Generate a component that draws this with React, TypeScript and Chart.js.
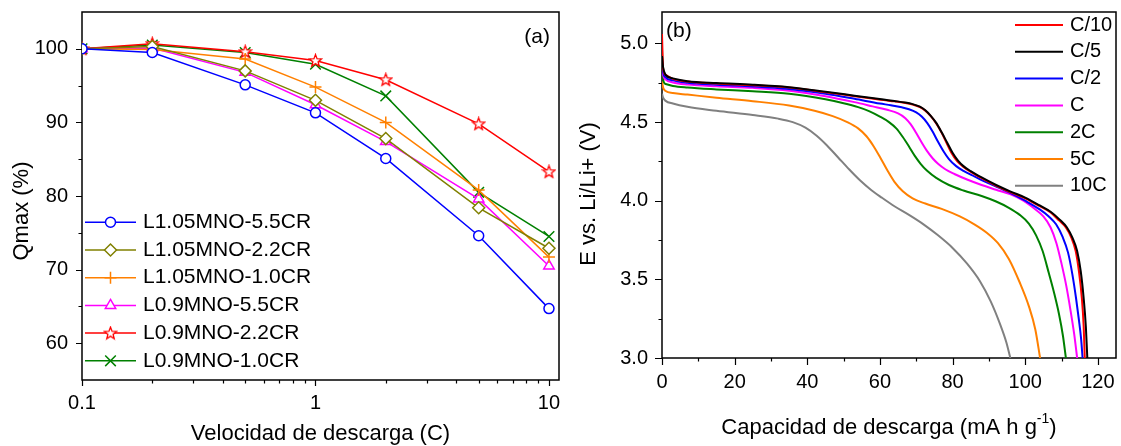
import React, { useEffect, useRef } from 'react';
import { Chart, registerables } from 'chart.js';
import { drawPoint } from 'chart.js/helpers';

Chart.register(...registerables);

const FONT = "'Liberation Sans', Arial, sans-serif";

// ---------- Panel (a): Qmax vs discharge rate ----------
const rateC = [0.1, 0.2, 0.5, 1, 2, 5, 10];
const namesA = ['L1.05MNO-5.5CR', 'L1.05MNO-2.2CR', 'L1.05MNO-1.0CR', 'L0.9MNO-5.5CR', 'L0.9MNO-2.2CR', 'L0.9MNO-1.0CR'];
const qL105_55 = [100, 99.5, 95.1, 91.3, 85.1, 74.6, 64.7];
const qL105_22 = [100, 100.3, 97.0, 93.0, 87.8, 78.4, 72.9];
const qL105_10 = [100, 99.9, 98.6, 94.8, 90.0, 80.8, 71.7];
const qL09_55 = [100, 100.1, 96.8, 92.4, 87.4, 79.6, 70.5];
const qL09_22 = [100, 100.7, 99.6, 98.4, 95.8, 89.8, 83.3];
const qL09_10 = [100, 100.5, 99.5, 97.9, 93.6, 80.5, 74.5];
const rateTicks = [0.1, 1, 10];
const rateMinor = [0.2, 0.3, 0.4, 0.5, 0.6, 0.7, 0.8, 0.9, 2, 3, 4, 5, 6, 7, 8, 9];
const qmaxTicks = [60, 70, 80, 90, 100];
const qmaxMinor = [65, 75, 85, 95];

// ---------- Panel (b): discharge curves ----------
const namesB = ['C/10', 'C/5', 'C/2', 'C', '2C', '5C', '10C'];
const capC10 = [0, 0.3, 1, 3, 7, 15, 25, 35, 45, 53, 61, 64, 67, 69, 71, 72.5, 74, 75.5, 77, 78.3, 79.8, 81.3, 83, 85, 88, 92, 96, 100, 104, 107, 109.3, 111.2, 112.7, 113.9, 114.8, 115.6, 116.1, 116.4];
const vC10 = [5.06, 4.84, 4.8, 4.775, 4.758, 4.745, 4.735, 4.72, 4.69, 4.665, 4.64, 4.632, 4.622, 4.612, 4.596, 4.573, 4.538, 4.492, 4.432, 4.37, 4.3, 4.25, 4.215, 4.183, 4.143, 4.095, 4.053, 4.015, 3.965, 3.925, 3.875, 3.83, 3.765, 3.68, 3.55, 3.38, 3.2, 3.0];
const capC5 = [0, 0.3, 1, 3, 7, 15, 25, 35, 45, 53, 61, 64, 67, 69, 71, 72.5, 74, 75.5, 77, 78.5, 80, 81.5, 83, 85, 88, 92, 96, 100, 104, 107, 109.5, 111.5, 113, 114.3, 115.3, 116.1, 116.7, 117.1];
const vC5 = [4.92, 4.85, 4.8, 4.778, 4.76, 4.748, 4.738, 4.722, 4.693, 4.668, 4.643, 4.634, 4.624, 4.614, 4.598, 4.575, 4.54, 4.495, 4.435, 4.37, 4.305, 4.255, 4.22, 4.188, 4.148, 4.1, 4.058, 4.02, 3.97, 3.93, 3.88, 3.83, 3.765, 3.68, 3.55, 3.38, 3.2, 3.0];
const capC2 = [0, 0.3, 1, 3, 7, 15, 25, 35, 45, 53, 60, 63, 66, 68, 70, 71.5, 73, 74.5, 76, 77.5, 79, 81, 83, 86, 90, 95, 100, 104, 106.5, 108.5, 110.3, 111.8, 113, 114, 114.8, 115.4, 115.8];
const vC2 = [4.9, 4.82, 4.785, 4.765, 4.75, 4.738, 4.727, 4.71, 4.68, 4.648, 4.618, 4.607, 4.594, 4.582, 4.562, 4.535, 4.495, 4.44, 4.375, 4.315, 4.265, 4.22, 4.19, 4.155, 4.11, 4.06, 4.0, 3.945, 3.9, 3.85, 3.77, 3.67, 3.53, 3.38, 3.24, 3.12, 3.0];
const capC1 = [0, 0.3, 1, 3, 7, 15, 25, 35, 45, 53, 58, 62, 65, 67, 68.5, 70, 71.5, 73, 74.5, 76, 78, 80.5, 84, 88, 92, 96, 99.5, 102.5, 105, 107, 108.6, 110, 111.3, 112.5, 113.5, 114.3];
const vC1 = [4.88, 4.8, 4.77, 4.752, 4.739, 4.728, 4.718, 4.7, 4.665, 4.627, 4.6, 4.578, 4.555, 4.525, 4.485, 4.43, 4.37, 4.315, 4.27, 4.235, 4.2, 4.17, 4.135, 4.1, 4.07, 4.04, 4.0, 3.95, 3.9, 3.83, 3.73, 3.6, 3.46, 3.3, 3.15, 3.0];
const cap2C = [0, 0.3, 1, 3, 7, 15, 25, 35, 45, 50, 54, 57, 60, 62.5, 64.5, 66.3, 68, 69.6, 71.2, 73, 75.5, 79, 83, 88, 92, 95.5, 98.5, 101, 103, 104.8, 106.5, 108, 109.3, 110.4, 111.2];
const v2C = [4.97, 4.77, 4.742, 4.73, 4.72, 4.708, 4.696, 4.68, 4.645, 4.62, 4.595, 4.57, 4.535, 4.5, 4.46, 4.405, 4.345, 4.285, 4.235, 4.19, 4.145, 4.1, 4.065, 4.03, 3.995, 3.955, 3.91, 3.855, 3.78, 3.68, 3.54, 3.41, 3.28, 3.14, 3.0];
const cap5C = [0, 0.3, 1, 3, 7, 15, 25, 35, 42, 47, 51, 54, 56.3, 58.3, 60.2, 62, 64, 66.3, 69, 72.5, 77, 82, 86, 89.5, 92.5, 95.5, 98.5, 101, 102.8, 104.1];
const v5C = [4.76, 4.72, 4.698, 4.685, 4.675, 4.655, 4.633, 4.605, 4.572, 4.538, 4.5, 4.46, 4.41, 4.345, 4.27, 4.195, 4.12, 4.06, 4.015, 3.982, 3.948, 3.9, 3.85, 3.795, 3.73, 3.63, 3.48, 3.33, 3.18, 3.0];
const cap10C = [0, 0.3, 1, 3, 7, 15, 25, 32, 36, 39.5, 42.5, 45.5, 48.5, 51.5, 54.5, 57.5, 60.5, 64, 68, 72, 76, 80, 84, 87.5, 90.5, 93, 94.8, 95.9];
const v10C = [4.68, 4.655, 4.635, 4.618, 4.597, 4.572, 4.545, 4.522, 4.5, 4.465, 4.415, 4.35, 4.275, 4.2, 4.13, 4.07, 4.02, 3.965, 3.91, 3.85, 3.78, 3.7, 3.6, 3.49, 3.36, 3.22, 3.1, 3.0];
const capTicks = [0, 20, 40, 60, 80, 100, 120];
const capMinor = [10, 30, 50, 70, 90, 110];
const eTicks = [3.0, 3.5, 4.0, 4.5, 5.0];
const eMinor = [3.25, 3.75, 4.25, 4.75];

function makeStar(color: string) {
  const c = document.createElement('canvas');
  c.width = 15;
  c.height = 15;
  const g = c.getContext('2d')!;
  const cx = 7.5, cy = 7.9, R = 6.4, r = 2.7;
  g.beginPath();
  for (let i = 0; i < 10; i++) {
    const ang = -Math.PI / 2 + (i * Math.PI) / 5;
    const rad = i % 2 === 0 ? R : r;
    const px = cx + rad * Math.cos(ang);
    const py = cy + rad * Math.sin(ang);
    if (i === 0) g.moveTo(px, py);
    else g.lineTo(px, py);
  }
  g.closePath();
  g.fillStyle = '#fff';
  g.fill();
  g.strokeStyle = color;
  g.lineWidth = 1.3;
  g.stroke();
  return c;
}

const decor = {
  id: 'decor',
  beforeDatasetsDraw(chart: any, _a: any, o: any) {
    const { ctx, chartArea: a } = chart;
    const sx = chart.scales.x, sy = chart.scales.y;
    ctx.save();
    ctx.strokeStyle = '#000';
    ctx.lineWidth = 1.5;
    ctx.strokeRect(a.left, a.top, a.right - a.left, a.bottom - a.top);
    ctx.lineWidth = 1.2;
    ctx.beginPath();
    const tx = (vals: number[], len: number) => vals.forEach((v) => {
      const p = Math.round(sx.getPixelForValue(v)) + 0.5;
      ctx.moveTo(p, a.bottom);
      ctx.lineTo(p, a.bottom + len);
    });
    const ty = (vals: number[], len: number) => vals.forEach((v) => {
      const p = Math.round(sy.getPixelForValue(v)) + 0.5;
      ctx.moveTo(a.left, p);
      ctx.lineTo(a.left - len, p);
    });
    tx(o.xMajor, o.majorLen);
    tx(o.xMinor, o.minorLen);
    ty(o.yMajor, o.majorLen);
    ty(o.yMinor, o.minorLen);
    ctx.stroke();
    ctx.restore();
  },
  afterDatasetsDraw(chart: any, _a: any, o: any) {
    const { ctx, chartArea: a } = chart;
    ctx.save();
    const L = o.legend;
    chart.data.datasets.forEach((ds: any, i: number) => {
      const y = L.y0 + i * L.dy;
      ctx.strokeStyle = ds.borderColor;
      ctx.lineWidth = ds.borderWidth;
      ctx.beginPath();
      ctx.moveTo(L.x0, y);
      ctx.lineTo(L.x1, y);
      ctx.stroke();
      if (L.markers) {
        ctx.fillStyle = '#fff';
        ctx.strokeStyle = ds.pointBorderColor;
        ctx.lineWidth = ds.pointBorderWidth;
        drawPoint(ctx, { pointStyle: ds.pointStyle, radius: ds.pointRadius, rotation: 0, borderWidth: ds.pointBorderWidth } as any, (L.x0 + L.x1) / 2, y);
      }
      ctx.fillStyle = '#000';
      ctx.font = `${L.size}px ${FONT}`;
      ctx.textAlign = 'left';
      ctx.textBaseline = 'middle';
      ctx.fillText(ds.label, L.tx, y);
    });
    // panel label
    ctx.fillStyle = '#000';
    ctx.font = `${o.label.size}px ${FONT}`;
    ctx.textAlign = o.label.align;
    ctx.textBaseline = 'middle';
    ctx.fillText(o.label.text, o.label.x, o.label.y);
    // x title (segments, optional superscript)
    const cxm = (a.left + a.right) / 2;
    const segs = o.xTitle.segs;
    let total = 0;
    const widths = segs.map((s: any) => {
      ctx.font = `${s.sup ? o.xTitle.supSize : o.xTitle.size}px ${FONT}`;
      const w = ctx.measureText(s.t).width;
      total += w;
      return w;
    });
    let xpos = cxm - total / 2;
    ctx.textAlign = 'left';
    segs.forEach((s: any, i: number) => {
      ctx.font = `${s.sup ? o.xTitle.supSize : o.xTitle.size}px ${FONT}`;
      ctx.fillText(s.t, xpos, o.xTitle.y - (s.sup ? o.xTitle.supRise : 0));
      xpos += widths[i];
    });
    // y title
    ctx.translate(o.yTitle.x, o.yTitle.y);
    ctx.rotate(-Math.PI / 2);
    ctx.font = `${o.yTitle.size}px ${FONT}`;
    ctx.textAlign = 'center';
    ctx.textBaseline = 'middle';
    ctx.fillText(o.yTitle.text, 0, 0);
    ctx.restore();
  },
};

function axis(kind: string, min: number, max: number, ticks: number[], fmt: (v: number) => string, isX: boolean, size: number, tickLen: number, pad: number) {
  return {
    type: kind,
    min,
    max,
    bounds: 'data',
    afterBuildTicks: (s: any) => {
      s.ticks = ticks.map((v) => ({ value: v }));
    },
    afterFit: (s: any) => {
      if (isX) {
        s.height = size;
        s.paddingLeft = 0;
        s.paddingRight = 0;
      } else {
        s.width = size;
        s.paddingTop = 0;
        s.paddingBottom = 0;
      }
    },
    grid: { display: false, drawTicks: true, tickLength: tickLen },
    border: { display: false },
    ticks: {
      padding: pad,
      color: '#000',
      font: { size: 20, family: FONT },
      maxRotation: 0,
      autoSkip: false,
      callback: (v: any) => fmt(Number(v)),
    },
  };
}

export default function App() {
  const refA = useRef<HTMLCanvasElement>(null);
  const refB = useRef<HTMLCanvasElement>(null);

  useEffect(() => {
    Chart.defaults.font.family = FONT;
    Chart.defaults.color = '#000';

    const valsA = [qL105_55, qL105_22, qL105_10, qL09_55, qL09_22, qL09_10];
    const stylesA = [
      { color: '#0000FF', point: 'circle', r: 5 },
      { color: '#808000', point: 'rectRot', r: 6 },
      { color: '#FF8000', point: 'cross', r: 6 },
      { color: '#FF00FF', point: 'triangle', r: 6 },
      { color: '#FF0000', point: makeStar('#FF0000'), r: 6 },
      { color: '#008000', point: 'crossRot', r: 7.5 },
    ];
    const dsA = valsA.map((vals, i) => ({
      label: namesA[i],
      data: rateC.map((x, j) => ({ x, y: vals[j] })),
      borderColor: stylesA[i].color,
      backgroundColor: '#fff',
      borderWidth: 1.5,
      pointStyle: stylesA[i].point,
      pointRadius: stylesA[i].r,
      pointBorderWidth: 1.5,
      pointBorderColor: stylesA[i].color,
      pointBackgroundColor: '#fff',
      tension: 0,
    }));

    const chartA = new Chart(refA.current!, {
      type: 'line',
      data: { datasets: dsA as any },
      plugins: [decor as any],
      options: {
        responsive: false,
        animation: false,
        devicePixelRatio: 1,
        layout: { padding: { left: 0, right: 16, top: 12, bottom: 0 } },
        plugins: {
          legend: { display: false },
          tooltip: { enabled: false },
          decor: {
            xMajor: rateTicks, xMinor: rateMinor, yMajor: qmaxTicks, yMinor: qmaxMinor,
            majorLen: 6, minorLen: 3.5,
            legend: { x0: 85, x1: 136, tx: 143, y0: 222.3, dy: 27.7, size: 21, markers: true },
            label: { text: '(a)', x: 550, y: 37, align: 'right', size: 21 },
            xTitle: { segs: [{ t: 'Velocidad de descarga (C)' }], y: 434, size: 22, supSize: 14, supRise: 8 },
            yTitle: { text: 'Qmax (%)', x: 22, y: 211, size: 22 },
          },
        } as any,
        scales: {
          x: axis('logarithmic', 0.1, 11.04, rateTicks, (v) => String(v), true, 66, 6, 5) as any,
          y: axis('linear', 55, 105, qmaxTicks, (v) => String(v), false, 82, 6, 8) as any,
        },
      },
    });

    const capsB = [capC10, capC5, capC2, capC1, cap2C, cap5C, cap10C];
    const voltsB = [vC10, vC5, vC2, vC1, v2C, v5C, v10C];
    const colorsB = ['#FF0000', '#000000', '#0000FF', '#FF00FF', '#008000', '#FF8000', '#808080'];
    const ordersB = [1, 0, 2, 3, 4, 5, 6];
    const dsB = capsB.map((caps, i) => ({
      label: namesB[i],
      data: caps.map((x, j) => ({ x, y: voltsB[i][j] })),
      borderColor: colorsB[i],
      backgroundColor: colorsB[i],
      borderWidth: 2,
      pointRadius: 0,
      cubicInterpolationMode: 'monotone',
      order: ordersB[i],
    }));

    const chartB = new Chart(refB.current!, {
      type: 'line',
      data: { datasets: dsB as any },
      plugins: [decor as any],
      options: {
        responsive: false,
        animation: false,
        devicePixelRatio: 1,
        layout: { padding: { left: 0, right: 5, top: 12, bottom: 0 } },
        plugins: {
          legend: { display: false },
          tooltip: { enabled: false },
          decor: {
            xMajor: capTicks, xMinor: capMinor, yMajor: eTicks, yMinor: eMinor,
            majorLen: 7, minorLen: 3.5,
            legend: { x0: 440, x1: 488, tx: 495, y0: 25, dy: 26.8, size: 20, markers: false },
            label: { text: '(b)', x: 91, y: 31, align: 'left', size: 21 },
            xTitle: {
              segs: [{ t: 'Capacidad de descarga (mA h g' }, { t: '-1', sup: true }, { t: ')' }],
              y: 428, size: 22, supSize: 14, supRise: 9,
            },
            yTitle: { text: 'E vs. Li/Li+ (V)', x: 14, y: 194, size: 22 },
          },
        } as any,
        scales: {
          x: axis('linear', 0, 125, capTicks, (v) => String(v), true, 88, 7, 5) as any,
          y: axis('linear', 3.0, 5.2, eTicks, (v) => v.toFixed(1), false, 87, 7, 7) as any,
        },
      },
    });

    return () => {
      chartA.destroy();
      chartB.destroy();
    };
  }, []);

  return (
    <div style={{ position: 'absolute', left: 0, top: 0, width: 1121, height: 446, background: '#fff' }}>
      <canvas ref={refA} width={575} height={446} style={{ position: 'absolute', left: 0, top: 0 }} />
      <canvas ref={refB} width={546} height={446} style={{ position: 'absolute', left: 575, top: 0 }} />
    </div>
  );
}
